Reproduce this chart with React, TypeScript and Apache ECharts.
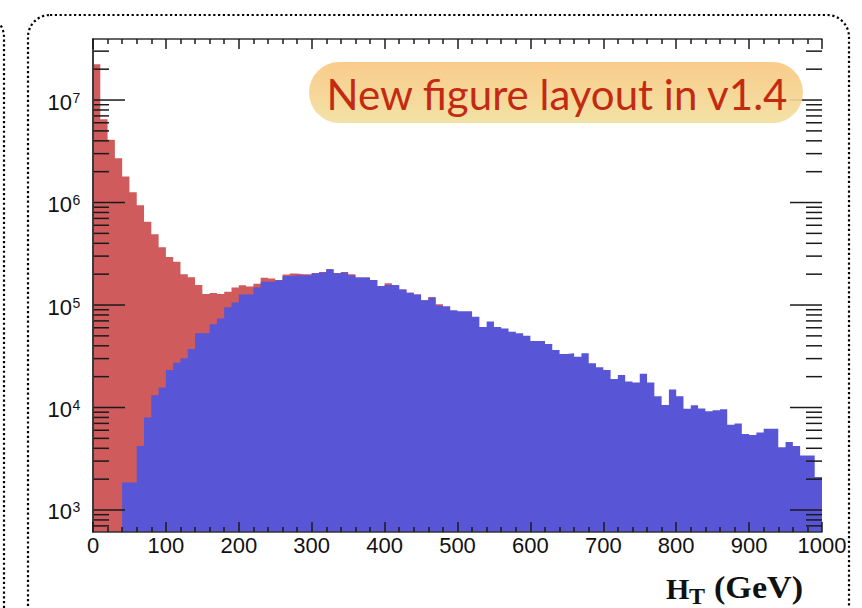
import React, { useEffect, useRef } from "react";
import * as echarts from "echarts";

// HT histogram, 10 GeV bins from 0 to 1000 GeV
const BIN_WIDTH = 10;
const X_MIN = 0;
const X_MAX = 1000;
const Y_MIN = 610;
const Y_MAX = 3.94e7;

// red sample, bins starting at 0 GeV (beyond 470 GeV it sits under the blue one)
const RED_COUNTS = [
  2.24e7, 6.5e6, 4.1e6, 2.7e6, 1.79e6, 1.26e6, 9.4e5, 6.5e5, 4.9e5, 3.66e5,
  2.94e5, 2.64e5, 2.0e5, 1.87e5, 1.57e5, 1.28e5, 1.31e5, 1.28e5, 1.35e5, 1.48e5,
  1.56e5, 1.52e5, 1.61e5, 1.85e5, 1.81e5, 1.75e5, 1.98e5, 2.03e5, 2.0e5, 2.0e5,
  2.05e5, 2.1e5, 2.23e5, 2.05e5, 2.1e5, 2.0e5, 1.86e5, 1.86e5, 1.75e5, 1.53e5,
  1.63e5, 1.56e5, 1.42e5, 1.32e5, 1.27e5, 1.11e5, 1.2e5, 1.02e5,
];

// blue sample, bins starting at 40 GeV
const BLUE_FIRST_EDGE = 40;
const BLUE_COUNTS = [
  1.86e3, 1.86e3, 4.2e3, 8.0e3, 1.32e4, 1.57e4, 2.32e4, 2.74e4, 3.02e4, 3.72e4,
  5.3e4, 5.3e4, 6.5e4, 7.4e4, 9.5e4, 1.06e5, 1.27e5, 1.27e5, 1.48e5, 1.69e5,
  1.69e5, 1.74e5, 1.92e5, 1.95e5, 1.95e5, 1.95e5, 2.04e5, 2.08e5, 2.23e5, 2.04e5,
  2.08e5, 1.95e5, 1.86e5, 1.86e5, 1.75e5, 1.53e5, 1.57e5, 1.56e5, 1.42e5, 1.32e5,
  1.27e5, 1.11e5, 1.18e5, 9.9e4, 9.7e4, 8.9e4, 8.7e4, 8.7e4, 7.7e4, 6.1e4,
  6.9e4, 6.1e4, 5.9e4, 5.5e4, 5.3e4, 5.0e4, 4.46e4, 4.46e4, 4.17e4, 3.64e4,
  3.33e4, 3.38e4, 3.13e4, 3.38e4, 2.7e4, 2.47e4, 2.32e4, 1.9e4, 2.07e4, 1.79e4,
  1.75e4, 2.14e4, 1.75e4, 1.29e4, 1.06e4, 1.5e4, 1.29e4, 9.7e3, 1.05e4, 9.8e3,
  9.2e3, 9.4e3, 9.6e3, 6.8e3, 7.0e3, 5.5e3, 5.4e3, 5.7e3, 6.2e3, 6.2e3,
  4.1e3, 4.6e3, 4.2e3, 3.4e3, 3.4e3, 2.1e3,
];

// log-axis tick marks: labelled decades and the minor steps inside each
const Y_DECADES = [3, 4, 5, 6, 7];
const Y_MINOR_STEPS = [2, 3, 4, 5, 6, 7, 8, 9];

const TITLE_MAIN = "H";
const TITLE_SUB = "T";
const TITLE_UNIT = "(GeV)";
const BADGE_TEXT = "New figure layout in v1.4";

const RED = "#CF5B5D";
const BLUE = "#5855D6";
const INK = "#1a1a1a";

// step outline: one point per lower bin edge, plus the closing upper edge
function toSteps(counts: number[], firstEdge: number) {
  const pts = counts.map((c, i) => [firstEdge + i * BIN_WIDTH, c]);
  pts.push([firstEdge + counts.length * BIN_WIDTH, counts[counts.length - 1]]);
  return pts;
}

function tickValues() {
  const out: [number, number, number][] = [];
  const lo = Math.floor(Math.log10(Y_MIN));
  const hi = Math.floor(Math.log10(Y_MAX));
  for (let e = lo; e <= hi; e++) {
    const base = Math.pow(10, e);
    if (base >= Y_MIN && Y_DECADES.includes(e)) out.push([0, base, e]);
    for (const k of Y_MINOR_STEPS) {
      const v = k * base;
      if (v >= Y_MIN && v <= Y_MAX) out.push([0, v, -1]);
    }
  }
  return out;
}

function yTickRender(params: any, api: any) {
  const v = api.value(1);
  const exp = api.value(2);
  const major = exp >= 0;
  const l = api.coord([X_MIN, v]);
  const r = api.coord([X_MAX, v]);
  const len = major ? 32 : 16;
  const children: any[] = [
    { type: "line", shape: { x1: l[0], y1: l[1], x2: l[0] + len, y2: l[1] }, style: { stroke: INK, lineWidth: 1.5 } },
    { type: "line", shape: { x1: r[0] - len, y1: r[1], x2: r[0], y2: r[1] }, style: { stroke: INK, lineWidth: 1.5 } },
  ];
  if (major) {
    children.push({
      type: "text",
      x: l[0] - 21,
      y: l[1] + 2,
      style: {
        text: "10",
        fontSize: 22,
        fontFamily: "Liberation Sans",
        fill: "#111",
        align: "right",
        verticalAlign: "middle",
      },
    });
    children.push({
      type: "text",
      x: l[0] - 20.5,
      y: l[1] - 2.5,
      style: {
        text: String(exp),
        fontSize: 14,
        fontFamily: "Liberation Sans",
        fill: "#111",
        align: "left",
        verticalAlign: "middle",
      },
    });
  }
  return { type: "group", children };
}

function histSeries(name: string, data: number[][], color: string, z: number) {
  return {
    type: "line",
    name,
    z,
    step: "end",
    data,
    showSymbol: false,
    symbol: "none",
    clip: true,
    silent: true,
    lineStyle: { width: 0, color },
    areaStyle: { color, opacity: 1, origin: "start" },
  };
}

const xAxisCommon = {
  type: "value",
  min: X_MIN,
  max: X_MAX,
  interval: 100,
  z: 10,
  splitLine: { show: false },
  axisLine: { show: true, lineStyle: { color: "#333", width: 1.5 } },
  axisTick: { show: true, inside: true, length: 10, lineStyle: { color: INK, width: 1.5 } },
  minorTick: { show: true, splitNumber: 5, length: 5, lineStyle: { color: INK, width: 1.5 } },
};

const yAxisCommon = {
  type: "log",
  min: Y_MIN,
  max: Y_MAX,
  z: 10,
  splitLine: { show: false },
  axisLine: { show: true, lineStyle: { color: "#333", width: 1.5 } },
  axisTick: { show: false },
  axisLabel: { show: false },
};

export default function App() {
  const ref = useRef<HTMLDivElement>(null);

  useEffect(() => {
    if (!ref.current) return;
    const chart = echarts.init(ref.current, undefined, { renderer: "svg" });

    const option: any = {
      animation: false,
      backgroundColor: "#ffffff",
      grid: { left: 93, top: 39, width: 729, height: 493, containLabel: false },
      xAxis: [
        {
          ...xAxisCommon,
          position: "bottom",
          axisLabel: {
            show: true,
            fontSize: 22,
            fontFamily: "Liberation Sans",
            color: "#111",
            margin: 2,
            formatter: (v: number) => String(v),
          },
        },
        { ...xAxisCommon, position: "top", axisLabel: { show: false } },
      ],
      yAxis: [
        { ...yAxisCommon, position: "left" },
        { ...yAxisCommon, position: "right" },
      ],
      series: [
        histSeries("red", toSteps(RED_COUNTS, X_MIN), RED, 2),
        histSeries("blue", toSteps(BLUE_COUNTS, BLUE_FIRST_EDGE), BLUE, 3),
        {
          type: "custom",
          name: "yticks",
          z: 8,
          renderItem: yTickRender,
          data: tickValues(),
          silent: true,
        },
      ],
      graphic: [
        // dotted panel outlines
        {
          type: "rect",
          shape: { x: 28, y: 15, width: 821, height: 700, r: 22 },
          style: { fill: "none", stroke: "#000", lineWidth: 2.2, lineDash: [2.2, 2.6] },
          silent: true,
          z: 20,
        },
        {
          type: "rect",
          shape: { x: -800, y: 15, width: 804, height: 700, r: 22 },
          style: { fill: "none", stroke: "#000", lineWidth: 2.2, lineDash: [2.2, 2.6] },
          silent: true,
          z: 20,
        },
        // version badge
        {
          type: "rect",
          shape: { x: 309, y: 62, width: 494, height: 61, r: 30.5 },
          style: {
            fill: new echarts.graphic.LinearGradient(0, 0, 0, 1, [
              { offset: 0, color: "#F9C67F" },
              { offset: 1, color: "#F0DF9B" },
            ]),
            opacity: 0.9,
          },
          z: 30,
          silent: true,
        },
        {
          type: "text",
          x: 557,
          y: 94,
          style: {
            text: BADGE_TEXT,
            fontSize: 42,
            fontFamily: "Lato",
            fill: "#C42A12",
            align: "center",
            verticalAlign: "middle",
          },
          z: 31,
          silent: true,
        },
        // axis title
        {
          type: "text",
          x: 666,
          y: 588,
          style: {
            text: TITLE_MAIN,
            fontSize: 30,
            fontWeight: "bold",
            fontFamily: "Liberation Serif",
            fill: "#111",
            align: "left",
            verticalAlign: "middle",
          },
          z: 30,
        },
        {
          type: "text",
          x: 689,
          y: 596,
          style: {
            text: TITLE_SUB,
            fontSize: 24,
            fontWeight: "bold",
            fontFamily: "Liberation Serif",
            fill: "#111",
            align: "left",
            verticalAlign: "middle",
          },
          z: 30,
        },
        {
          type: "text",
          x: 803,
          y: 588,
          scaleX: 1.1,
          style: {
            text: TITLE_UNIT,
            fontSize: 31,
            fontWeight: "bold",
            fontFamily: "Liberation Serif",
            fill: "#111",
            align: "right",
            verticalAlign: "middle",
          },
          z: 30,
        },
      ],
    };

    chart.setOption(option);
    return () => chart.dispose();
  }, []);

  return (
    <div
      ref={ref}
      style={{ position: "fixed", left: 0, top: 0, width: 862, height: 608, background: "#fff" }}
    />
  );
}
